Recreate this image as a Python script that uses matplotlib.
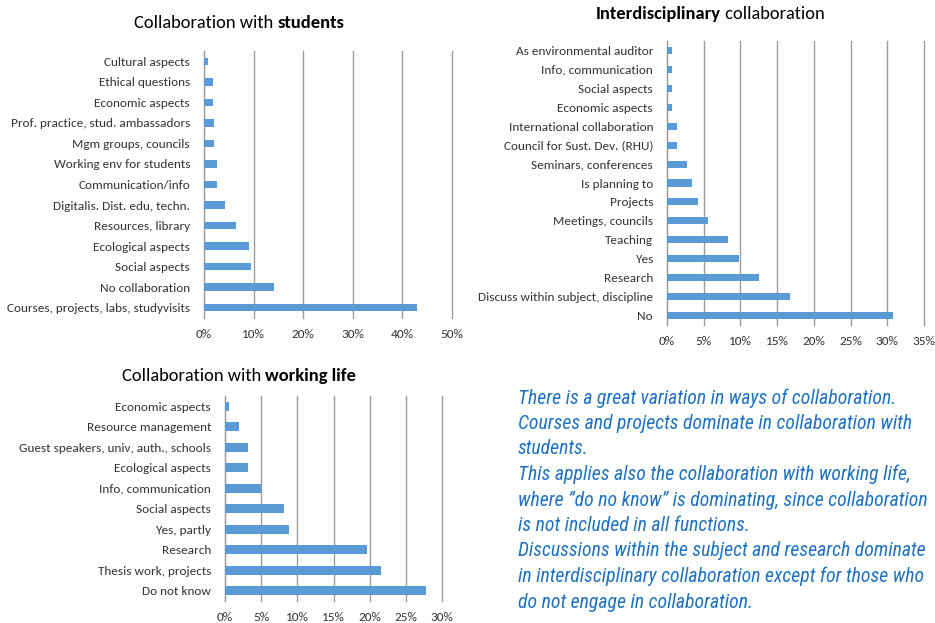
import matplotlib
matplotlib.use("Agg")
import matplotlib.pyplot as plt
from matplotlib.ticker import PercentFormatter
from matplotlib.offsetbox import TextArea, HPacker, AnnotationBbox

# data (percent), listed top to bottom
students_cats = ["Cultural aspects", "Ethical questions", "Economic aspects",
                 "Prof. practice, stud. ambassadors", "Mgm groups, councils",
                 "Working env for students", "Communication/info",
                 "Digitalis. Dist. edu, techn.", "Resources, library",
                 "Ecological aspects", "Social aspects", "No collaboration",
                 "Courses, projects, labs, studyvisits"]
students_vals = [0.8, 1.75, 1.75, 2.1, 2.1, 2.6, 2.6, 4.3, 6.4, 9.0, 9.4, 14.1, 43.0]

inter_cats = ["As environmental auditor", "Info, communication", "Social aspects",
              "Economic aspects", "International collaboration",
              "Council for Sust. Dev. (RHU)", "Seminars, conferences",
              "Is planning to", "Projects", "Meetings, councils", "Teaching",
              "Yes", "Research", "Discuss within subject, discipline", "No"]
inter_vals = [0.65, 0.65, 0.65, 0.65, 1.37, 1.37, 2.78, 3.46, 4.19, 5.55, 8.37,
              9.79, 12.56, 16.75, 30.8]

work_cats = ["Economic aspects", "Resource management",
             "Guest speakers, univ, auth., schools", "Ecological aspects",
             "Info, communication", "Social aspects", "Yes, partly", "Research",
             "Thesis work, projects", "Do not know"]
work_vals = [0.6, 1.89, 3.18, 3.18, 5.02, 8.2, 8.85, 19.6, 21.5, 27.8]

note_lines = [
    "There is a great variation in ways of collaboration.",
    "Courses and projects dominate in collaboration with",
    "students.",
    "This applies also the collaboration with working life,",
    "where \u201ddo no know\u201d is dominating, since collaboration",
    "is not included in all functions.",
    "Discussions within the subject and research dominate",
    "in interdisciplinary collaboration except for those who",
    "do not engage in collaboration.",
]

W, H = 935, 623
LABEL_FONT = ["Carlito", "Lato", "DejaVu Sans"]
NOTE_FONT = ["Liberation Sans Narrow", "Roboto Condensed", "Roboto", "DejaVu Sans"]
BAR = "#5b9bd5"
GRID = "#9a9a9a"
TXT = "#333333"

fig = plt.figure(figsize=(W / 100, H / 100), dpi=100)


def px_axes(left, top, right, bottom):
    return fig.add_axes([left / W, 1 - bottom / H, (right - left) / W, (bottom - top) / H])


def bar_panel(ax, cats, vals, xmax, step, height):
    ax.barh(range(len(cats)), vals, height=height, color=BAR, zorder=3)
    ax.set_ylim(len(cats) - 0.5, -0.5)  # first category on top
    ax.set_xlim(0, xmax)
    ax.set_xticks(range(0, xmax + 1, step))
    ax.xaxis.set_major_formatter(PercentFormatter(decimals=0))
    ax.set_yticks(range(len(cats)))
    ax.set_yticklabels(cats)
    ax.grid(axis="x", color=GRID, linewidth=1, zorder=0)
    # keep the last gridline fully visible at the right edge
    for gl in ax.get_xgridlines():
        gl.set_clip_on(False)
    for s in ["top", "right", "bottom"]:
        ax.spines[s].set_visible(False)
    ax.spines["left"].set_color(GRID)
    ax.tick_params(axis="both", length=0, labelsize=9.5, labelcolor=TXT)
    ax.tick_params(axis="x", pad=8)
    ax.tick_params(axis="y", pad=10)
    for lab in ax.get_xticklabels() + ax.get_yticklabels():
        lab.set_family(LABEL_FONT)


def mixed_title(parts, cx, cy, size=13.3):
    boxes = [TextArea(t, textprops=dict(fontsize=size, color="black", family=LABEL_FONT,
                                        fontweight="bold" if b else "normal"))
             for t, b in parts]
    pack = HPacker(children=boxes, align="baseline", pad=0, sep=0)
    ab = AnnotationBbox(pack, (cx / W, 1 - cy / H), xycoords="figure fraction",
                        frameon=False, box_alignment=(0.5, 0.5), pad=0)
    fig.add_artist(ab)


ax1 = px_axes(204, 51, 452, 318)
bar_panel(ax1, students_cats, students_vals, 50, 10, 0.36)
mixed_title([("Collaboration with ", False), ("students", True)], 239, 23)

ax2 = px_axes(667, 41, 924, 325)
bar_panel(ax2, inter_cats, inter_vals, 35, 5, 0.37)
mixed_title([("Interdisciplinary", True), (" collaboration", False)], 710, 14)

ax3 = px_axes(225, 396, 442, 601)
bar_panel(ax3, work_cats, work_vals, 30, 5, 0.42)
mixed_title([("Collaboration with ", False), ("working life", True)], 239, 376)

for i, line in enumerate(note_lines):
    fig.text(518 / W, 1 - (398 + i * 25.5) / H, line, fontsize=14.2, style="italic",
             color="#1f72c0", family=NOTE_FONT, ha="left", va="center")

fig.savefig("out.png", dpi=100)
